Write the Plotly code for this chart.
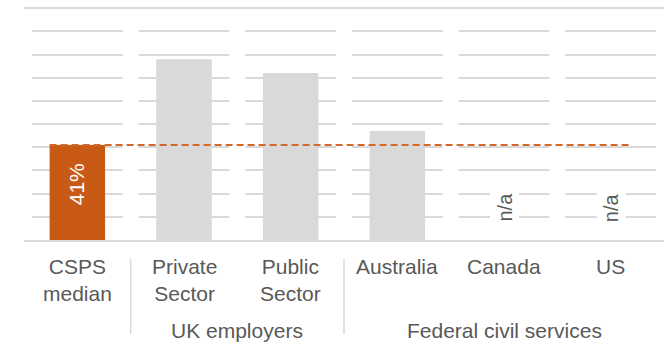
import plotly.graph_objects as go

# Share of staff (%) by comparator
categories = ["CSPS<br>median", "Private<br>Sector", "Public<br>Sector", "Australia", "Canada", "US"]
values = [41, 78, 72, 47, None, None]
bar_colors = ["#C95A16", "#D9D9D9", "#D9D9D9", "#D9D9D9", "#D9D9D9", "#D9D9D9"]
groups = ["UK employers", "Federal civil services"]
group_members = [[1, 2], [3, 4, 5]]
benchmark = values[0]

FONT = "Liberation Sans, Arial, sans-serif"
GREY_TEXT = "#595959"
GRID = "#D9D9D9"
FS = 21

x = list(range(len(categories)))
n = len(categories)

fig = go.Figure()
fig.add_trace(go.Bar(
    x=x, y=values, marker=dict(color=bar_colors, line=dict(width=0)),
    width=0.52, hoverinfo="skip",
))

# CSPS median reference line
fig.add_trace(go.Scatter(
    x=[-0.26, 5.2], y=[benchmark, benchmark], mode="lines",
    line=dict(color="#D2682C", width=2, dash="7px,4px"), hoverinfo="skip",
))

shapes = []
# breaks in the gridlines between categories
for b in range(n + 1):
    shapes.append(dict(
        type="rect", xref="x", yref="y", layer="between",
        x0=b - 0.5 - 0.075, x1=b - 0.5 + 0.075, y0=4, y1=99,
        fillcolor="white", line=dict(width=0),
    ))
# separators between the category groups
for b in [0.5, 2.5]:
    xp = (b + 0.5) / n
    shapes.append(dict(
        type="line", xref="paper", yref="paper",
        x0=xp, x1=xp, y0=-0.082, y1=-0.403,
        line=dict(color=GRID, width=1.5),
    ))

annotations = []
for i, c in enumerate(categories):
    annotations.append(dict(
        x=i, y=0, xref="x", yref="y", text=c, showarrow=False,
        yanchor="top", yshift=-13, font=dict(family=FONT, size=FS, color=GREY_TEXT),
    ))
for g, members in zip(groups, group_members):
    annotations.append(dict(
        x=sum(members) / len(members), y=0, xref="x", yref="y", text=g,
        showarrow=False, yanchor="top", yshift=-77,
        font=dict(family=FONT, size=FS, color=GREY_TEXT),
    ))
for i, v in enumerate(values):
    if v is None:
        annotations.append(dict(
            x=i, y=0, xref="x", yref="y", text="n/a", showarrow=False,
            textangle=-90, yanchor="bottom", yshift=14, bgcolor="white",
            borderpad=3, font=dict(family=FONT, size=20, color=GREY_TEXT),
        ))
annotations.append(dict(
    x=0, y=values[0], xref="x", yref="y", text=f"{values[0]}%", showarrow=False,
    textangle=-90, yanchor="top", yshift=-16,
    font=dict(family=FONT, size=FS, color="white"),
))

fig.update_layout(
    width=664, height=342,
    margin=dict(l=23.5, r=0, t=6.8, b=102),
    plot_bgcolor="white", paper_bgcolor="white",
    showlegend=False, bargap=0.48,
    shapes=shapes, annotations=annotations,
    xaxis=dict(range=[-0.5, n - 0.5], showticklabels=False, showgrid=False,
               zeroline=False, showline=True, linecolor=GRID, linewidth=1.5,
               ticks=""),
    yaxis=dict(range=[0, 100.5], tickvals=list(range(10, 101, 10)),
               showticklabels=False, showgrid=True,
               gridcolor=GRID, gridwidth=1.5, zeroline=False, showline=False),
)

fig.write_html("out.html")
